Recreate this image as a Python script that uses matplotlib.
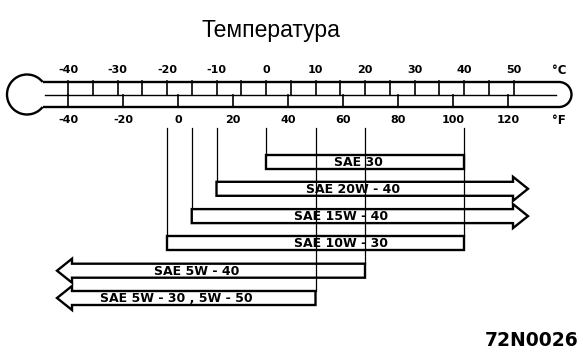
import matplotlib
matplotlib.use("Agg")
import math
import matplotlib.pyplot as plt
from matplotlib.patches import Arc, Polygon

# scale data
celsius_ticks = [-40, -35, -30, -25, -20, -15, -10, -5, 0, 5, 10, 15, 20, 25, 30, 35, 40, 45, 50]
celsius_labels = [-40, -30, -20, -10, 0, 10, 20, 30, 40, 50]
fahrenheit_labels = [-40, -20, 0, 20, 40, 60, 80, 100, 120]

# oil grades, usable range in deg C (None = open ended, drawn as arrow)
grades = ["SAE 30", "SAE 20W - 40", "SAE 15W - 40", "SAE 10W - 30", "SAE 5W - 40", "SAE 5W - 30 , 5W - 50"]
low_c = [0, -10, -15, -20, None, None]
high_c = [40, None, None, 40, 20, 10]

# layout (pixels)
PX0 = 266.0      # pixel x of 0 C
PXC = 4.95       # pixels per deg C
ROW_Y0 = 161.5
ROW_STEP = 27.3
BAR_H = 14
HEAD_W = 5
HEAD_L = 15
ARROW_RIGHT_PX = 528
ARROW_LEFT_PX = 57
LABEL_X_PX = [358, 353, 341, 341, 197, 176]
TUBE_TOP, TUBE_MID, TUBE_BOT = 82, 94.5, 107
BULB_X, BULB_Y, BULB_R = 27, 94.5, 20
LW = 1.7


def px2c(px):
    return (px - PX0) / PXC


def f2c(f):
    return (f - 32) * 5.0 / 9.0


fig = plt.figure(figsize=(5.83, 3.61), dpi=100)
ax = fig.add_axes([0, 0, 1, 1])
ax.set_xlim(px2c(0), px2c(583))
ax.set_ylim(361, 0)
ax.axis("off")

ax.text(px2c(271), 37, "Температура", ha="center", va="baseline", fontsize=16.5,
        family="Liberation Sans")

# thermometer
dy = BULB_Y - TUBE_TOP
dx = math.sqrt(BULB_R ** 2 - dy ** 2)
tube_l = px2c(BULB_X + dx)
tube_r = px2c(559)
ax.plot([tube_l, tube_r], [TUBE_TOP, TUBE_TOP], color="black", lw=LW, solid_capstyle="butt")
ax.plot([tube_l, tube_r], [TUBE_BOT, TUBE_BOT], color="black", lw=LW, solid_capstyle="butt")
ax.plot([px2c(45), px2c(556)], [TUBE_MID, TUBE_MID], color="black", lw=1.0)
ax.add_patch(Arc((tube_r, (TUBE_TOP + TUBE_BOT) / 2), 25 / PXC, 25, theta1=-90, theta2=90,
                 color="black", lw=LW))
ang = math.degrees(math.atan2(dy, dx / PXC))
ax.add_patch(Arc((px2c(BULB_X), BULB_Y), 2 * BULB_R / PXC, 2 * BULB_R, theta1=ang,
                 theta2=360 - ang, color="black", lw=LW))

for c in celsius_ticks:
    ax.plot([c, c], [TUBE_TOP - 1, TUBE_MID], color="black", lw=1.2)
for c in celsius_labels:
    ax.text(c, 70, "%d" % c, ha="center", va="center", fontsize=8, fontweight="bold")
for f in fahrenheit_labels:
    ax.plot([f2c(f), f2c(f)], [TUBE_MID, TUBE_BOT], color="black", lw=1.2)
    ax.text(f2c(f), 120, "%d" % f, ha="center", va="center", fontsize=8, fontweight="bold")
ax.text(px2c(559), 70, "°C", ha="center", va="center", fontsize=8.5, fontweight="bold")
ax.text(px2c(559), 120, "°F", ha="center", va="center", fontsize=8.5, fontweight="bold")

# bars
edge_bottom = {}
for i, name in enumerate(grades):
    yc = ROW_Y0 + i * ROW_STEP
    yt, yb = yc - BAR_H / 2, yc + BAR_H / 2
    if low_c[i] is None:
        xl = px2c(ARROW_LEFT_PX + HEAD_L)
        left = [(px2c(ARROW_LEFT_PX), yc), (xl, yt - HEAD_W), (xl, yt)]
        left_b = [(xl, yb), (xl, yb + HEAD_W)]
    else:
        xl = low_c[i]
        left = [(xl, yt)]
        left_b = [(xl, yb)]
        edge_bottom[low_c[i]] = yt
    if high_c[i] is None:
        xr = px2c(ARROW_RIGHT_PX - HEAD_L)
        right = [(xr, yt), (xr, yt - HEAD_W), (px2c(ARROW_RIGHT_PX), yc), (xr, yb + HEAD_W), (xr, yb)]
    else:
        xr = high_c[i]
        right = [(xr, yt), (xr, yb)]
        edge_bottom[high_c[i]] = yt
    pts = left + right + left_b
    ax.add_patch(Polygon(pts, closed=True, fill=False, edgecolor="black", lw=LW, joinstyle="miter"))
    ax.text(px2c(LABEL_X_PX[i]), yc + 0.5, name, ha="center", va="center", fontsize=9,
            fontweight="bold")

# connector lines from scale down to bar edges
for c, yend in edge_bottom.items():
    ax.plot([c, c], [128, yend], color="black", lw=0.9)

ax.text(px2c(578), 340, "72N0026", ha="right", va="center", fontsize=13.5, fontweight="bold")

plt.savefig("out.png", dpi=100)
